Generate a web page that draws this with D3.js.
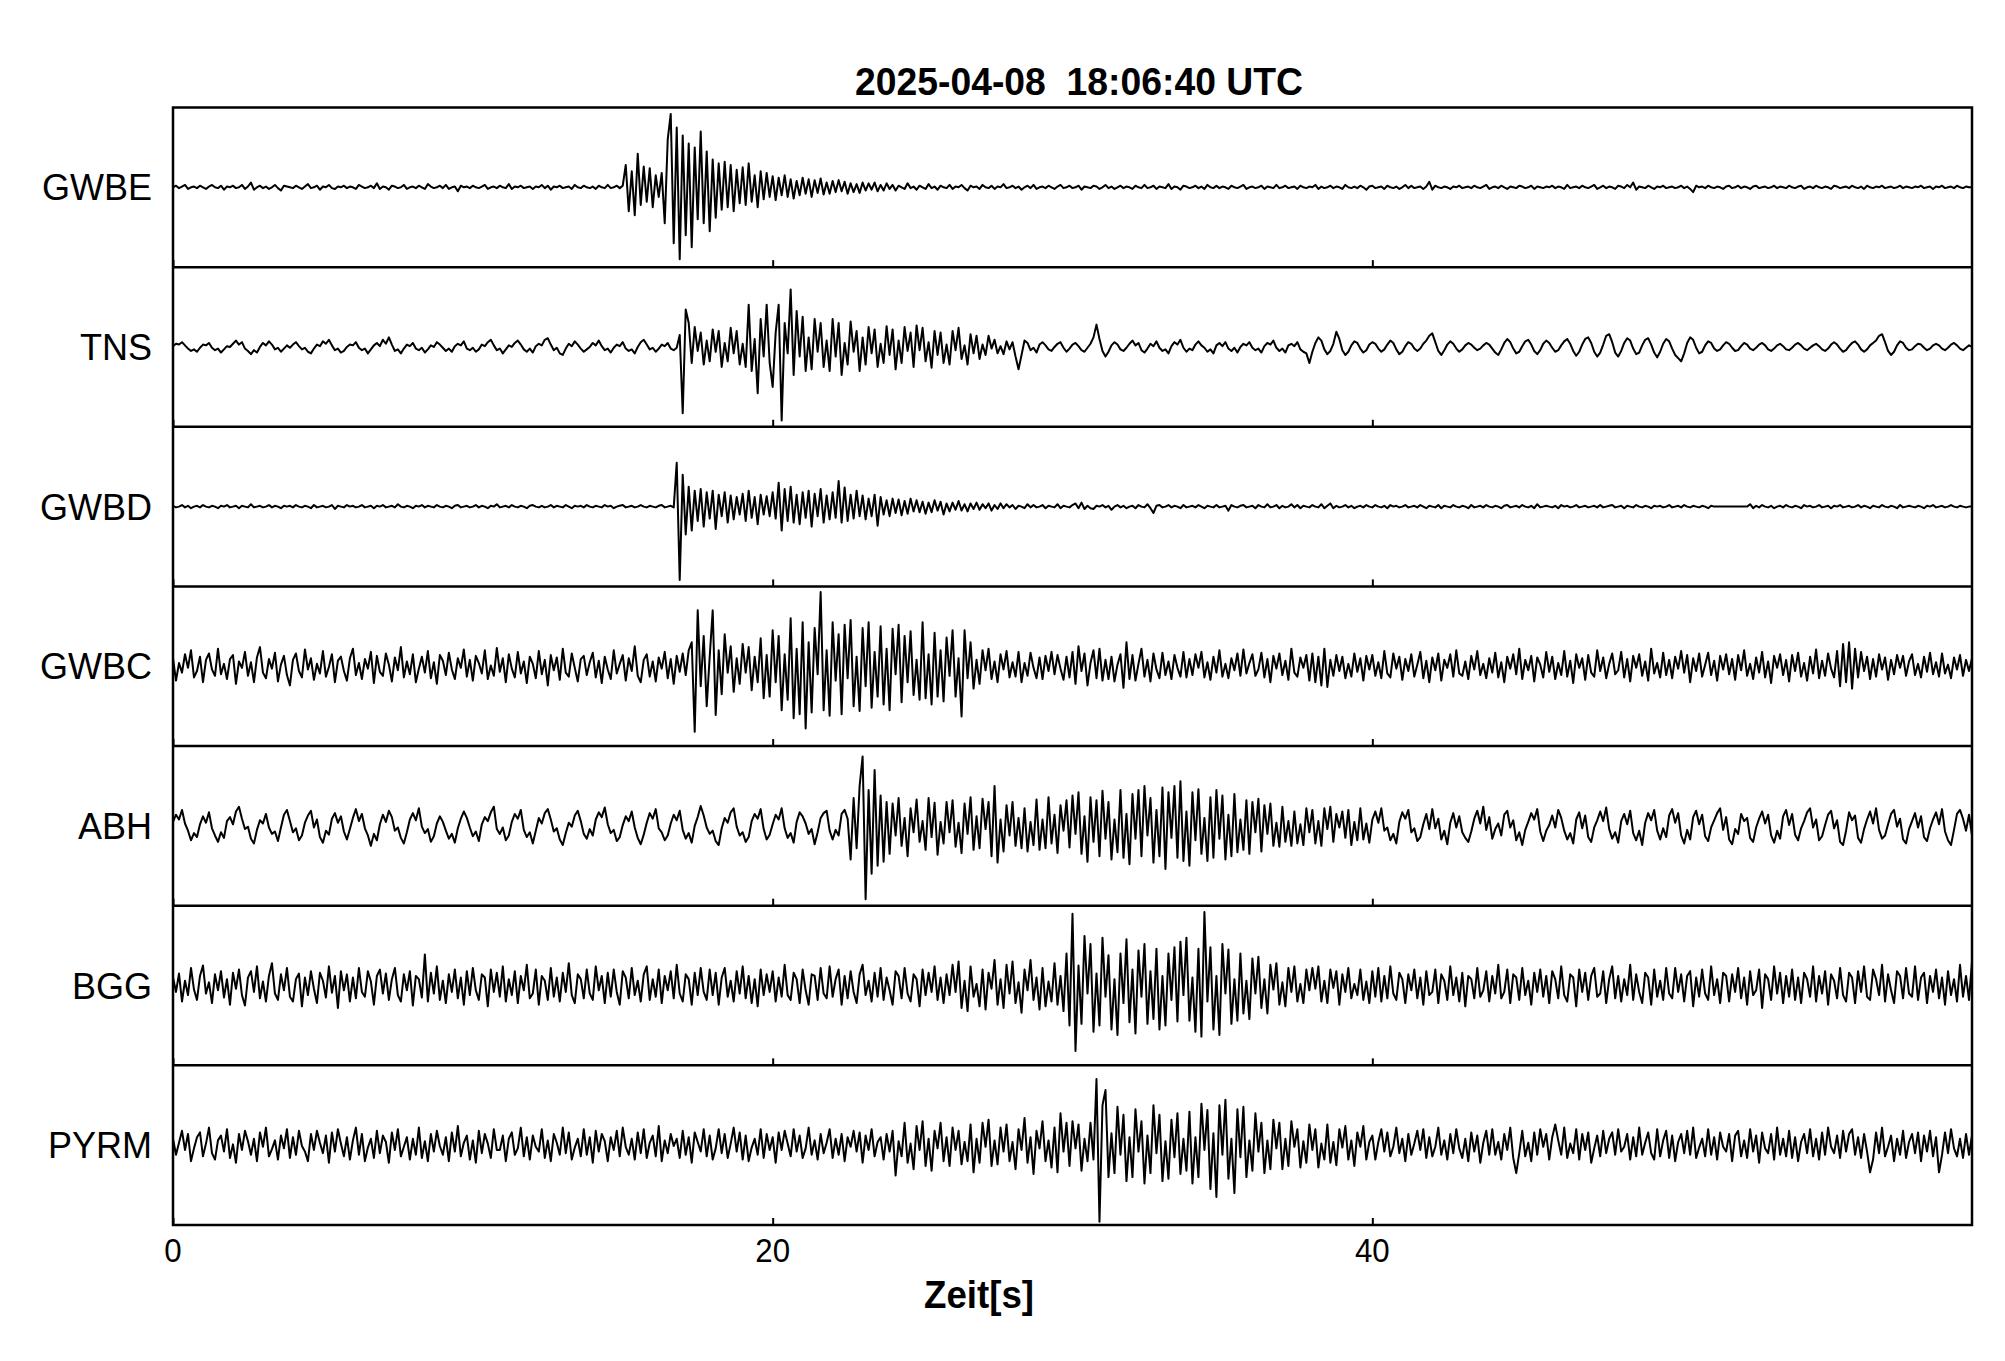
<!DOCTYPE html>
<html>
<head>
<meta charset="utf-8">
<script src="https://cdn.jsdelivr.net/npm/d3@7"></script>
<style>
  body { margin: 0; background: #fff; }
  svg { display: block; }
  text { font-family: "Liberation Sans", Arial, Helvetica, sans-serif; fill: #000; }
</style>
</head>
<body>
<svg id="chart" width="2005" height="1361"></svg>
<script>
var title = "2025-04-08\u00a0\u00a018:06:40 UTC",
    xLabel = "Zeit[s]",
    stations = ["GWBE", "TNS", "GWBD", "GWBC", "ABH", "BGG", "PYRM"],
    xTicks = [0, 20, 40],
    dt = 0.1;   // sample step in seconds

// amplitudes, normalised per trace (100 = half panel height)
var GWBE = [
  0,2,-1,1,3,-2,0,1,-1,2, 0,-2,1,3,0,-1,2,-3,1,0,
  2,-1,0,3,-2,1,6,-3,0,2, -1,1,-2,0,3,-1,-4,2,1,0,
  -1,2,0,-2,1,4,-1,0,2,-3, 1,0,3,-1,-2,1,0,2,-1,1,
  0,-2,3,1,-1,0,2,-1,5,-2, 1,0,-3,2,1,-1,0,3,-2,0,
  1,-1,2,0,-2,4,1,-1,0,2, -1,3,-2,0,1,-5,2,0,1,-1,
  2,0,-1,1,3,-2,0,1,-1,2, 0,-1,4,-2,1,0,2,-1,0,1,
  -2,1,0,3,-1,2,-3,1,0,2, -1,0,1,-2,3,0,-1,2,0,-1,
  1,-2,2,0,-1,3,-1,0,2,-1, 2,28,-30,20,-35,42,-22,26,-18,24,
  -25,15,-12,18,-45,60,92,-70,75,-90, 65,-60,55,-75,50,-40,70,-45,45,-55,
  35,-38,30,-28,32,-25,28,-30,22,-20, 25,-22,30,-18,15,-25,20,-15,18,-12,
  14,-16,12,-10,15,-12,10,-14,8,-10, 12,-8,10,-12,9,-7,11,-9,6,-8,
  8,-6,9,-5,7,-8,5,-6,4,-7, 6,-4,5,-3,6,-5,3,-4,5,-2,
  3,-4,2,0,-2,5,-1,1,-3,2, 0,-2,4,-1,1,-3,2,0,-1,3,
  -2,1,0,3,-1,-4,2,0,1,-2, 3,0,-1,2,-2,1,0,4,-1,0,
  2,-1,1,-3,0,2,-1,3,-2,0, 1,-1,2,0,-2,1,3,-1,0,2,
  -1,0,2,-3,1,0,-1,2,1,-2, 0,3,-1,1,-2,0,2,-1,1,0,
  -2,2,0,-1,3,-1,0,2,-2,1, 0,-1,4,-2,1,0,-3,2,1,-1,
  0,2,-1,1,-2,3,0,-1,2,-1, 1,0,-2,2,0,-1,1,3,-2,0,
  1,-1,0,2,-2,1,0,-1,3,-1, 0,2,-1,0,1,-2,2,0,-1,1,
  0,3,-2,1,-1,0,2,-1,1,0, -2,3,0,-1,1,-1,2,0,-3,1,
  2,-1,0,1,-2,2,0,-1,1,-2, 0,3,-1,2,-1,0,1,-2,1,7,
  -3,2,0,-1,1,0,-2,1,0,2, -1,0,1,-1,2,0,-1,1,3,-2,
  0,1,-1,2,0,-2,1,0,-1,2, 1,-1,0,2,-2,1,0,-1,1,0,
  2,-1,1,0,-2,3,-1,0,1,-1, 2,0,-1,1,3,-2,0,2,-1,1,
  0,-2,2,1,-1,3,0,6,-3,1, 0,-1,2,0,-2,1,0,2,-1,0,
  1,-1,0,2,-1,1,-2,-6,2,0, 1,-1,2,0,-1,1,0,-2,1,2,
  -1,0,2,-1,1,0,-2,1,2,-1, 0,1,-1,0,2,-1,1,0,-1,2,
  0,-1,1,2,-2,0,1,-1,2,0, -1,1,0,-2,2,1,-1,0,1,-1,
  2,0,-1,1,-2,2,0,-1,1,0, 2,-1,0,1,-1,0,2,-1,1,0,
  -1,1,0,2,-1,0,1,-2,1,0, 2,-1,0,1,-1,2,0,-1,1,0,
  0];

var TNS = [
  1,4,3,6,2,-2,-5,-3,-6,-1, 3,2,5,-1,-4,-2,-7,-3,1,0,
  4,8,3,6,-2,-5,-9,-4,-7,0, 5,2,7,3,-3,-1,-6,-2,2,-1,
  3,6,1,-3,-1,-6,-8,-2,3,1, 7,4,9,2,-4,-2,-7,-5,0,3,
  2,6,-1,-4,-2,-8,-3,2,5,1, 9,4,12,3,-5,-3,-8,-2,3,1,
  5,-2,-4,-1,-7,-3,2,0,6,3, -1,-5,-2,-6,1,4,2,7,-2,-4,
  -1,-6,-3,3,1,6,9,2,-4,-2, -8,-3,2,0,5,8,3,-3,-6,-2,
  -7,1,4,2,9,11,3,-4,-1,-8, -10,-2,4,1,7,3,-2,-6,-3,0,
  5,2,8,1,-4,-2,-7,-1,3,1, 6,-2,-5,-3,-8,0,6,9,3,-3,
  -1,-6,-2,3,1,5,-2,-4,-1,15, -83,47,30,-20,25,-5,18,-22,8,-18,
  22,-6,20,-25,5,-18,24,-8,20,-22, 4,-25,53,-30,10,-58,35,-12,53,-20,
  -50,18,53,-92,30,-8,72,-35,45,-12, 38,-30,12,-28,35,-6,30,-25,8,-30,
  35,-12,30,-35,5,-22,32,-6,20,-30, 12,-22,25,-8,22,-25,4,-20,26,-10,
  22,-28,8,-20,25,-5,18,-25,27,-4, 24,-18,6,-26,20,-10,18,-20,3,-22,
  20,-4,24,-15,2,-22,16,-8,14,-15, 3,-10,14,-2,9,-8,1,-9,7,-3,
  6,-12,-28,-10,8,5,-4,-1,-7,3, 6,2,-3,-5,0,4,6,-1,-6,-2,
  3,5,1,-4,-6,-1,4,12,28,10, -5,-12,-6,2,6,3,-3,-5,-1,4,
  8,2,5,-4,-7,-2,4,1,7,-1, -5,-3,-8,1,6,3,9,-1,-6,-2,
  -4,3,7,2,-1,-6,-3,-8,2,5, 1,6,-2,-5,-1,-7,0,4,2,6,
  -1,-4,-2,-7,1,5,3,8,-1,-5, -2,-7,2,4,1,6,-3,-6,-8,-20,
  -6,5,12,8,-3,-9,-5,4,19,10, -4,-10,-6,2,7,5,-2,-7,-4,3,
  6,4,-2,-6,-3,3,8,5,-3,-9, -6,1,6,4,-2,-5,-2,4,8,14,
  17,6,-5,-10,-4,3,7,4,-2,-6, -3,2,5,3,-1,-4,-2,2,5,3,
  -2,-7,-10,-3,5,10,6,-2,-8,-6, 1,7,9,3,-5,-9,-4,4,8,5,
  -1,-6,-4,2,7,10,4,-5,-11,-6, 3,10,12,5,-6,-12,-7,3,14,16,
  6,-7,-12,-5,5,11,8,-2,-9,-7, 2,9,11,3,-7,-13,-6,4,10,7,
  -2,-10,-14,-18,-8,5,12,9,-1,-8, -6,2,7,5,-2,-5,-3,2,6,4,
  -1,-5,-4,1,5,3,-2,-4,-1,3, 5,2,-3,-5,-2,2,4,1,-3,-4,
  -1,3,5,2,-2,-4,-1,2,4,1, -3,-5,-2,3,6,3,-2,-6,-4,1,
  5,7,3,-3,-6,-3,2,5,8,14, 16,6,-5,-10,-6,2,7,5,-1,-4,
  -3,1,4,3,-1,-4,-2,2,4,2, -2,-4,-1,3,5,2,-2,-4,-1,2,
  0];

var GWBD = [
  1,-1,0,2,-1,1,-2,0,1,-1, 2,0,-1,1,0,-2,1,0,2,-1,
  0,1,-2,1,0,-1,3,-1,0,1, -1,0,2,-1,1,0,-2,1,0,1,
  -1,2,0,-1,1,0,-2,2,-1,0, 1,-1,0,2,-3,1,0,-1,2,0,
  1,-1,0,2,-1,0,1,-2,1,0, 2,-1,0,1,-1,3,0,-1,1,0,
  -2,1,0,2,-1,1,0,-1,2,0, -1,1,0,-2,1,2,-1,0,1,-1,
  0,2,-1,1,0,-2,1,0,3,-1, 0,1,-1,2,0,-1,1,0,-2,1,
  2,0,-1,1,-1,0,2,-1,1,0, -1,2,0,-2,1,0,1,-1,2,0,
  -1,1,0,-1,2,0,1,-2,0,1, 2,-1,0,1,-1,0,2,0,-1,1,
  0,-1,1,2,-1,0,1,-1,55,-92, 40,-35,25,-30,20,-18,22,-25,18,-15,
  20,-28,15,-12,18,-20,14,-16,12,-10, 16,-18,20,-14,12,-22,15,-10,13,-12,
  18,-15,30,-30,22,-18,25,-20,15,-22, 18,-14,20,-25,16,-12,22,-20,14,-16,
  18,-14,32,-20,24,-18,15,-15,20,-12, 14,-16,10,-12,15,-24,12,-10,8,-12,
  10,-8,9,-11,7,-9,10,-6,8,-7, 6,-9,5,-7,8,-5,6,-10,4,-6,
  5,-4,7,-5,3,-6,4,-3,5,-4, 3,-2,4,-5,2,-3,4,-2,3,-1,
  2,-3,1,0,-2,3,-1,2,-1,0, 2,-2,1,0,-1,3,-2,1,0,-1,
  2,4,-2,5,-3,1,-2,-3,1,0, 2,-1,1,-4,0,2,-1,1,-2,0,
  1,-2,2,0,-1,3,-2,-8,1,2, -1,0,2,-1,1,0,-2,2,-1,0,
  1,-1,2,0,-2,1,0,-1,2,-1, 0,1,-5,2,0,-1,1,2,-1,0,
  1,-2,2,0,-1,3,-1,0,2,-2, 1,-1,0,3,-1,2,-2,1,0,-1,
  2,0,-1,3,-2,1,4,-2,1,-1, 0,2,-1,1,-2,0,1,-1,2,0,
  -1,2,0,-1,1,-2,2,0,1,-1, 0,2,-1,0,1,-1,2,0,-2,1,
  0,-1,2,-2,1,0,-1,2,0,-1, 1,0,-2,2,-1,0,1,-1,2,0,
  -1,1,0,-2,1,2,-1,0,1,-1, 2,0,-1,1,-2,3,-1,0,1,0,
  -1,1,-2,2,0,1,-1,0,2,-1, 0,1,-1,0,1,-1,2,-1,0,1,
  2,-1,0,1,-2,1,0,-1,2,0, -1,1,0,-2,1,0,1,-1,0,2,
  -1,0,1,-1,2,0,-1,1,0,-1, 1,0,-2,1,0,0,0,0,0,0,
  0,0,0,0,0,0,3,-2,1,-1, 2,0,-1,1,-2,0,1,-1,2,0,
  -1,1,0,-2,2,0,1,-1,0,2, -1,0,1,-2,1,0,2,-1,0,1,
  -1,0,2,-1,1,0,-2,1,0,-1, 2,0,-1,1,0,-2,2,-1,0,1,
  0,-1,1,0,-2,1,0,2,-1,0, 1,-1,0,2,0,-1,1,0,-1,0,
  0];

var GWBC = [
  10,-18,4,-8,15,-2,20,-14,-6,12, -20,8,16,-4,-12,22,-10,3,-16,9,
  14,-22,6,-2,18,-12,5,-20,11,24, -8,-15,9,-3,17,-19,2,13,-11,-24,
  8,16,-6,-14,21,-4,10,-17,3,-9, 19,-13,-1,15,-20,7,12,-6,-18,10,
  22,-11,4,-16,9,-3,18,-21,13,-7, -12,16,2,-19,11,-5,24,-14,6,-10,
  15,-20,-3,12,-8,19,-15,5,-22,14, 7,-11,17,-4,-16,10,-2,21,-13,8,
  -18,13,4,-9,20,-16,1,-12,23,-7, 10,-20,15,-3,-14,18,-9,6,-21,12,
  3,-15,19,-10,8,-24,14,-5,11,-17, 22,-8,-13,16,-2,-19,9,13,-11,5,
  17,-14,7,-21,12,-4,-16,20,-9,3, 14,-18,10,-6,25,-12,-20,8,15,-13,
  6,-19,11,-3,18,-15,9,-22,13,-7, 16,-11,20,30,-82,70,-25,38,-50,12,
  70,-61,20,-35,40,-8,25,-32,10,-22, 28,-8,24,-30,12,-20,35,-40,14,-38,
  45,-20,38,-55,15,-42,60,-65,22,-60, 55,-78,30,-58,48,-10,93,-55,20,-62,
  55,-18,40,-60,52,-15,58,-50,12,-56, 48,-25,55,-52,18,-38,50,-48,22,-55,
  47,-10,52,-45,38,-20,44,-36,8,-42, 55,-40,15,-48,42,-38,20,-44,36,-12,
  45,-38,10,-63,45,-15,30,-28,8,-22, 20,-5,22,-16,6,-20,15,-4,19,-14,
  5,-13,18,-20,4,-12,17,-2,-15,11, -16,13,-6,18,-10,14,-3,-17,12,-14,
  18,-22,25,-6,16,-24,4,20,-15,22, -18,8,-16,12,-19,2,15,-27,30,-16,
  14,-18,3,22,-13,8,-19,16,-4,-15, 17,-11,6,-16,14,-2,-13,18,-14,9,
  -11,15,-2,18,-14,5,-17,12,-8,20, -13,3,-15,10,-5,16,-12,21,-9,4,
  15,-12,-4,17,-14,9,-20,13,-3,16, -11,7,-17,22,-8,-13,11,-2,14,-18,
  16,-20,12,-24,22,-26,8,-12,14,-6, 12,-15,3,-13,16,-7,10,-18,13,-4,
  14,-12,5,-15,19,-9,-14,16,-3,12, -17,9,-6,15,-13,2,18,-15,7,-20,
  11,-5,16,-18,8,-2,15,-13,20,-9, -12,6,-16,13,-4,19,-11,3,-15,10,
  -8,17,-14,5,-20,12,-3,15,-10,22, -16,8,-5,13,-19,11,2,-14,18,-7,
  12,-16,4,-11,19,-13,7,-21,15,-2, 10,-17,14,-8,-13,20,-6,11,-15,3,
  16,-10,-5,18,-14,9,-19,13,-2,15, -12,6,-18,22,-9,4,-14,17,-11,8,
  -15,12,-3,19,-8,14,-20,10,-6,16, -13,2,17,-11,7,-18,13,-4,15,-10,
  9,-17,14,-5,20,-12,3,-16,11,-8, 18,-14,6,-21,13,-2,15,-11,8,-19,
  14,-6,17,-13,4,-18,12,-9,21,-15, 7,-12,16,-3,-14,19,-25,28,-20,30,
  -28,22,-14,18,-6,12,-16,9,-13,15, -4,11,-17,8,-10,14,-2,13,-12,6,
  15,-11,3,-14,12,-7,17,-10,5,-13, 16,-9,2,-15,11,-4,14,-12,8,-6,
  10];

var ABH = [
  5,14,8,20,3,-6,-18,-9,-14,2, 12,4,17,-3,-12,-20,-8,-15,6,11,
  2,18,24,9,-4,-1,-16,-22,-5,7, 3,15,-2,-10,-7,-19,-2,14,20,6,
  -8,-3,-18,-12,4,13,19,-2,8,-14, -21,-6,-11,9,16,4,12,-7,-17,-4,
  10,21,6,15,-3,-12,-25,-10,-18,2, 14,5,19,11,-6,-2,-15,-22,-8,8,
  16,7,22,-1,-9,-4,-20,-13,3,12, 5,-6,-16,-10,-21,-3,9,18,10,-2,
  -13,-7,-19,2,11,6,17,24,-4,-10, -2,-18,-12,5,15,9,20,-5,-14,-8,
  -22,-6,10,3,16,21,8,-7,-3,-17, -24,-9,4,-1,13,19,6,-10,-16,-4,
  -12,8,17,11,23,2,-9,-5,-19,-14, 1,12,6,18,-2,-15,-23,-11,4,16,
  9,21,-3,-8,-18,-12,3,14,7,19, -5,-16,-9,-21,0,11,25,13,-2,-10,
  -6,-19,-24,-3,10,4,17,22,-1,-12, -8,-20,-14,6,15,9,21,-4,-17,-11,
  2,14,8,22,-3,-15,-9,-21,5,17, 12,3,-10,-4,-23,-8,10,16,19,-6,
  -17,-5,-12,15,20,9,-42,35,-28,50, 87,-92,45,-60,70,-50,38,-45,30,-35,
  28,-12,35,-25,10,-38,22,-8,33,-20, 6,-30,35,-14,29,-36,5,-22,30,-8,
  32,-26,4,-34,28,-10,36,-30,12,-28, 34,-4,30,-38,50,-46,8,-32,26,-12,
  30,-25,10,-28,22,-32,5,-24,33,-30, 8,-28,36,-22,14,-34,26,-6,32,-27,
  38,-10,42,-35,12,-45,36,-20,32,-38, 44,-16,30,-42,8,-33,45,-40,15,-48,
  40,-16,45,-38,50,-12,35,-46,20,-38, 48,-54,42,-15,50,-40,56,-44,18,-50,
  42,-18,46,-35,10,-44,36,-40,45,-16, 38,-42,14,-38,40,-33,8,-30,32,-35,
  30,-8,34,-32,26,-10,28,-25,4,-26, 24,-20,6,-25,18,-22,2,-24,22,-8,
  20,-22,6,-25,22,-4,24,-20,15,-2, 18,-15,20,-24,5,-18,22,-17,3,-21,
  8,18,4,22,-6,-2,-18,-10,-22,5, 17,9,20,-8,-3,-19,-14,2,15,-4,
  21,-3,9,-17,-6,-23,4,16,-2,12, -8,-15,-20,-7,9,19,3,24,-5,11,
  -16,-4,3,-12,14,19,-2,7,-18,-8, -24,-5,5,16,8,21,-7,-19,-6,1,
  13,-2,20,10,-6,-17,-9,-22,8,17, -3,13,-14,-20,-2,7,18,6,23,-4,
  -16,-8,-21,6,15,2,19,-9,-18,-6, -24,4,16,7,20,-6,-17,-3,-14,13,
  21,4,16,-12,-22,-5,-17,11,19,2, 14,-13,-19,-2,7,16,22,-5,11,-17,
  -23,-4,-10,15,6,10,-15,-20,-2,9, 18,3,14,-12,-21,-6,-16,12,20,1,
  15,-11,-18,-3,6,17,22,-2,8,-18, -13,1,14,19,-3,7,-20,-24,-6,17,
  7,13,-15,-21,-4,8,18,3,22,-5, -16,-12,2,15,20,-1,9,-17,-22,-4,
  6,16,-2,12,-14,-19,-3,8,17,2, 21,-7,-18,-24,-5,15,20,9,-6,14,
  -12];

var BGG = [
  10,-8,15,-20,6,-12,22,-5,-18,12, 25,-10,4,-22,14,-6,18,-15,8,-24,
  16,-4,20,-12,-25,10,18,-8,24,-16, 5,-20,12,28,-10,-18,14,-6,22,-14,
  -20,8,15,-26,10,-12,18,-4,-22,16, 6,-15,24,-9,12,-28,18,-6,14,-20,
  10,-16,22,-8,-14,18,5,-24,12,20, -10,15,-18,8,22,-12,-20,14,-6,18,
  -25,12,8,-15,39,-20,16,-10,24,-18, 6,-22,14,-8,20,-16,10,-24,18,-12,
  22,-6,-18,14,10,-26,20,-8,16,-14, 24,-20,8,-12,18,-22,12,-6,26,-16,
  -10,20,-24,12,6,-18,22,-14,10,-20, 16,-8,28,-12,-22,14,8,-16,20,-10,
  -18,24,-6,12,-22,16,-14,20,-8,-24, 18,10,-16,22,-12,6,-20,14,24,-18,
  8,-14,20,-22,12,-6,18,-16,26,-10, -20,14,8,-24,16,-12,22,-8,-18,20,
  -12,16,-24,10,22,-14,6,-20,18,-10, 24,-16,12,-22,8,-26,20,-12,14,-8,
  18,-20,10,-14,26,-12,-18,16,8,-22, 20,-6,-24,14,12,-18,22,-10,-16,24,
  -14,8,20,-24,12,-16,18,-8,-22,14, 26,-12,6,-20,16,-14,22,-18,10,-6,
  -24,18,12,-16,22,-10,-20,14,8,-26, 20,-12,16,-8,24,-18,10,-22,14,-12,
  26,-8,30,-28,6,-32,24,-14,2,-26, 20,-30,16,-4,32,-24,8,-28,26,-10,
  30,-22,4,-34,20,-6,32,-18,10,-30, 22,-26,5,-20,28,-24,12,-32,40,-50,
  90,-82,25,-48,62,-10,52,-58,15,-50, 60,-14,38,-55,8,-62,40,-22,58,-46,
  20,-60,44,-14,52,-48,18,-42,46,-55, 12,-50,40,-18,48,-45,55,-12,60,-44,
  10,-58,46,-64,92,-20,48,-55,12,-62, 52,-10,45,-48,8,-44,40,-35,6,-42,
  34,-10,36,-28,8,-35,26,-5,28,-24, 4,-26,22,-8,24,-20,2,-22,20,-6,
  22,-4,24,-20,6,-22,20,-3,18,-24, 14,-8,22,-16,2,-12,20,-18,5,-22,
  18,-14,22,-20,12,-16,24,-10,-18,16, 8,-22,14,-6,20,-16,10,-24,18,-12,
  -8,20,-22,14,6,-18,24,-12,10,-20, 16,-26,12,8,-16,22,-14,-6,18,-20,
  12,-10,26,-16,-8,20,-22,14,10,-18, 22,-12,6,-24,16,-8,20,-14,12,-22,
  18,8,-16,24,-12,-20,14,10,-26,20, -8,16,-18,12,22,-14,-10,18,-22,8,
  24,-16,12,-20,8,-12,26,-18,14,-8, -22,16,10,-24,20,-14,6,-18,22,-10,
  -16,22,-8,14,-20,12,18,-26,10,-14, 20,-10,-18,24,-12,8,-22,16,12,-20,
  14,-8,22,-16,10,-24,18,-12,-6,20, -28,14,8,-18,24,-10,16,-22,12,-14,
  20,-18,10,-22,16,8,-14,24,-20,12, -10,18,-24,14,6,-16,22,-12,-20,16,
  10,-22,18,-8,24,-14,-18,20,8,-12, 26,-20,14,-6,-22,18,12,-16,22,-10,
  -14,24,-18,10,16,-22,12,-8,20,-16, 10,-24,18,-12,8,-20,26,-14,12,-18,
  30];

var PYRM = [
  8,-12,3,18,-6,14,-20,-4,10,16, -14,2,22,-10,-18,6,12,-8,20,-16,
  1,-22,14,-6,18,5,-12,8,-20,16, -2,22,-14,-5,6,-18,12,-4,20,-16,
  10,-12,18,-1,-8,-20,14,-6,18,3, -10,12,-22,16,-8,20,2,-14,10,-18,
  6,22,-12,14,-20,-3,8,-16,18,-10, 12,4,-22,16,-6,20,-14,-2,10,-18,
  8,-12,22,-16,5,-20,14,-8,18,-1, -12,10,-20,16,-8,24,-14,3,12,-18,
  6,-22,18,-10,14,2,-16,20,-6,-6, 12,-20,8,16,-12,-4,22,-14,10,-18,
  12,-2,-8,20,-16,6,-20,14,3,-12, 22,-10,16,-18,-3,8,-14,20,-12,10,
  -22,18,-8,14,5,-20,10,-6,18,-14, 22,-2,-12,8,-18,16,-10,20,-16,3,
  12,-14,24,-20,6,-10,14,-1,8,-16, 18,-12,10,-22,16,4,-8,20,-14,12,
  -18,-4,20,-10,14,-16,2,22,-8,16, -18,12,-20,-3,8,-12,20,-16,14,-6,
  10,-22,16,-6,18,2,-14,20,-8,12, -16,-4,22,-12,6,-18,14,-10,3,20,
  -16,8,-12,14,-20,10,-2,18,-8,16, -22,12,-6,20,-14,4,10,-18,14,-8,
  18,-38,5,-14,28,-22,2,-30,24,-6, 30,-26,8,-32,18,-4,28,-20,10,-26,
  22,-6,18,-24,4,-20,26,-34,8,-22, 28,-2,32,-26,6,-24,22,-8,26,-20,
  4,-30,20,-6,34,-22,10,-36,18,-4, 30,-20,6,-28,22,-34,40,-8,28,-26,
  30,-4,26,-32,8,-20,28,-18,83,-96, 50,69,-40,15,-35,48,-12,38,-45,10,
  -40,45,-8,30,-48,12,-35,50,-10,38, -45,5,-42,32,-15,40,-36,8,-32,42,
  -48,10,-40,52,-6,44,-55,15,-65,50, -12,57,-42,8,-60,45,-15,48,-40,6,
  -32,40,-8,28,-35,6,-30,32,-4,28, -30,8,-26,30,-2,20,-28,5,-22,26,
  -6,20,-28,2,-18,26,-22,4,-25,20, -3,24,-18,6,-26,16,-2,24,-18,4,
  12,-18,4,20,-8,16,-14,-2,22,-10, 8,-20,14,-12,2,18,-6,20,-16,10,
  -14,-2,22,-12,6,-18,14,-10,20,-4, -16,8,-20,16,-8,12,-22,3,18,-12,
  20,-12,4,-18,14,-6,22,-16,-35,-10, 18,-14,3,-20,16,-12,20,-2,14,-18,
  10,26,6,-12,22,-16,2,-10,20,-18, 14,-6,16,-22,-4,12,-14,18,-10,8,
  16,-12,20,-8,-2,14,-18,10,-14,22, -12,3,16,-10,-18,20,-14,6,18,-16,
  12,-20,4,14,-10,18,-12,22,-16,-3, 8,-14,20,-12,10,-18,16,-2,-8,14,
  -20,12,18,-14,6,-16,20,-8,12,-22, 16,-4,-10,14,-18,22,-12,8,-14,18,
  -16,10,-20,4,14,-10,20,-14,8,-18, 16,-12,22,-2,-10,12,-16,18,-8,14,
  20,-12,10,-16,14,-8,-34,-18,16,-10, 22,-14,-2,12,-20,8,-12,18,-16,4,
  14,-10,16,-20,12,-8,18,-14,10,-34, -12,16,-10,20,-4,-14,8,-16,14,-12,
  12];

var traces = [GWBE, TNS, GWBD, GWBC, ABH, BGG, PYRM];

var svg = d3.select("#chart"),
    margin = {top: 107.5, right: 33, bottom: 136, left: 173},
    width = +svg.attr("width") - margin.left - margin.right,
    height = +svg.attr("height") - margin.top - margin.bottom;

var g = svg.append("g")
    .attr("transform", "translate(" + margin.left + "," + margin.top + ")");

var x = d3.scaleLinear()
    .domain([0, 60])
    .range([0, width]);

var band = d3.scaleBand()
    .domain(stations)
    .range([0, height]);

var y = d3.scaleLinear()
    .domain([-100, 100])
    .range([band.bandwidth(), 0]);

var line = d3.line()
    .x(function(d, i) { return x(i * dt); })
    .y(function(d) { return y(d); });

var panel = g.selectAll("g.panel")
  .data(stations)
  .enter().append("g")
    .attr("class", "panel")
    .attr("transform", function(d) { return "translate(0," + band(d) + ")"; });

// waveform
panel.append("path")
    .attr("d", function(d, i) { return line(traces[i]); })
    .attr("fill", "none")
    .attr("stroke", "#000")
    .attr("stroke-width", 2)
    .attr("stroke-linejoin", "round");

// inward ticks on every panel's lower edge
panel.append("g")
    .attr("transform", "translate(0," + band.bandwidth() + ")")
    .call(d3.axisBottom(x).tickValues(xTicks).tickSize(-7).tickFormat(""))
    .call(function(a) { a.select(".domain").remove(); })
    .selectAll("line").attr("stroke-width", 2);

// panel separators
g.selectAll("line.sep")
  .data(stations.slice(1))
  .enter().append("line")
    .attr("class", "sep")
    .attr("x1", 0)
    .attr("x2", width)
    .attr("y1", function(d) { return band(d); })
    .attr("y2", function(d) { return band(d); })
    .attr("stroke", "#000")
    .attr("stroke-width", 2.5);

g.append("rect")
    .attr("width", width)
    .attr("height", height)
    .attr("fill", "none")
    .attr("stroke", "#000")
    .attr("stroke-width", 2.5);

// station names
g.selectAll("text.station")
  .data(stations)
  .enter().append("text")
    .attr("class", "station")
    .attr("x", -21)
    .attr("y", function(d) { return band(d) + band.bandwidth() / 2 + 13; })
    .attr("text-anchor", "end")
    .style("font-size", "36px")
    .text(function(d) { return d; });

// tick labels
g.selectAll("text.tick-label")
  .data(xTicks)
  .enter().append("text")
    .attr("class", "tick-label")
    .attr("transform", function(d) { return "translate(" + x(d) + "," + (height + 37) + ") scale(0.92,1)"; })
    .attr("text-anchor", "middle")
    .style("font-size", "34px")
    .text(function(d) { return d; });

svg.append("text")
    .attr("x", 979)
    .attr("y", 1308)
    .attr("text-anchor", "middle")
    .attr("textLength", 110)
    .attr("lengthAdjust", "spacingAndGlyphs")
    .style("font-size", "38px")
    .style("font-weight", "bold")
    .text(xLabel);

svg.append("text")
    .attr("x", 1079)
    .attr("y", 95)
    .attr("text-anchor", "middle")
    .attr("textLength", 448)
    .attr("lengthAdjust", "spacingAndGlyphs")
    .style("font-size", "38px")
    .style("font-weight", "bold")
    .text(title);
</script>
</body>
</html>
